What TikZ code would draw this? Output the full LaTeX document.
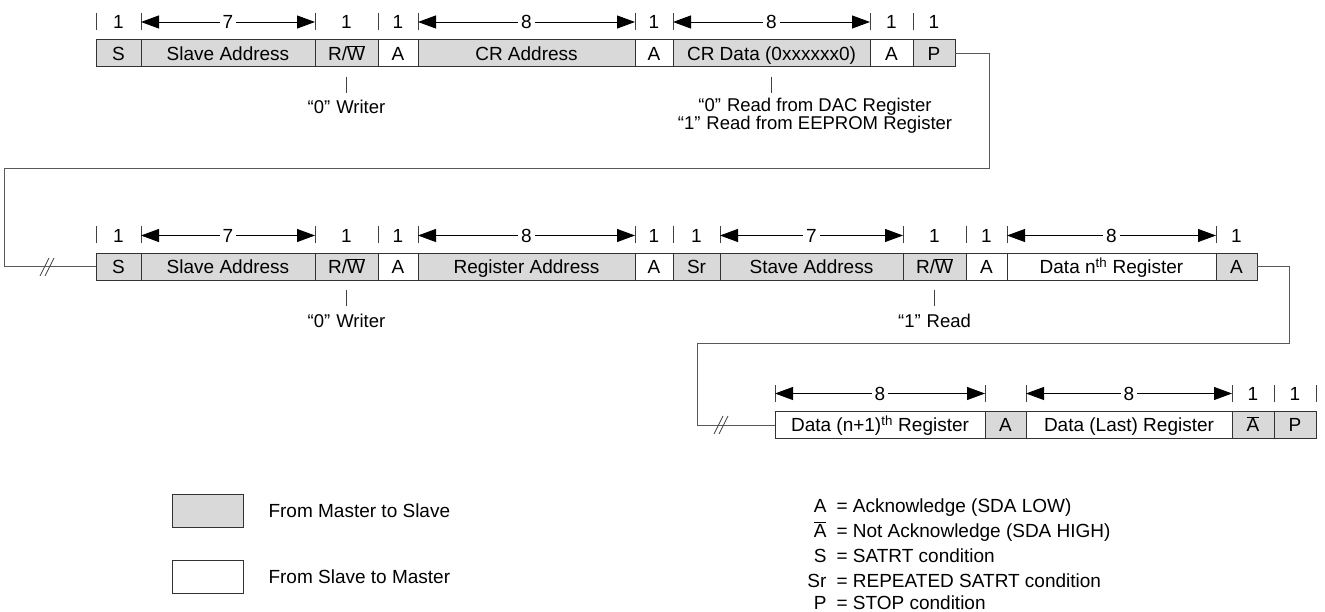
\documentclass[tikz,border=0pt]{standalone}
\usepackage{fontspec}
\setmainfont{Liberation Sans}
\usetikzlibrary{positioning,arrows.meta}
\newcommand{\ovl}[1]{$\overline{\mbox{#1}}$}

\begin{document}
\begin{tikzpicture}[x=1pt,y=-1pt,>={Triangle[length=18pt,width=13pt]},
  font=\fontsize{19}{18}\selectfont,
  field/.style={draw=black!80,line width=1pt,minimum height=27pt,inner sep=0pt,
    outer sep=0pt,text height=13.5pt,text depth=0pt},
  ms/.style={field,fill=black!15},
  sm/.style={field,fill=white},
  link/.style={draw=black!65,line width=1pt},
  tick/.style={draw=black!75,line width=0.8pt},
  dim/.style={<->,draw=black,line width=0.9pt},
  num/.style={fill=white,inner sep=3pt},
  note/.style={font=\fontsize{18.5}{18}\selectfont}]
  \useasboundingbox (0,0) rectangle (1325,612);

  \node[ms,minimum width=45pt,anchor=west] (s1) at (96,53.5) {S};
  \node[ms,minimum width=174pt,right=0pt of s1] (sa1) {Slave Address};
  \node[ms,minimum width=63pt,right=0pt of sa1] (rw1) {R/\ovl{W}};
  \node[sm,minimum width=40pt,right=0pt of rw1] (ack1) {A};
  \node[ms,minimum width=217pt,right=0pt of ack1] (cra) {CR Address};
  \node[sm,minimum width=38pt,right=0pt of cra] (ack2) {A};
  \node[ms,minimum width=197pt,right=0pt of ack2] (crd) {CR Data (0xxxxxx0)};
  \node[sm,minimum width=43pt,right=0pt of crd] (ack3) {A};
  \node[ms,minimum width=42pt,right=0pt of ack3] (p1) {P};

  \node[ms,minimum width=45pt,anchor=west] (s2) at (96,267) {S};
  \node[ms,minimum width=174pt,right=0pt of s2] (sa2) {Slave Address};
  \node[ms,minimum width=63pt,right=0pt of sa2] (rw2) {R/\ovl{W}};
  \node[sm,minimum width=40pt,right=0pt of rw2] (ack4) {A};
  \node[ms,minimum width=217pt,right=0pt of ack4] (rga) {Register Address};
  \node[sm,minimum width=38pt,right=0pt of rga] (ack5) {A};
  \node[ms,minimum width=47pt,right=0pt of ack5] (sr) {Sr};
  \node[ms,minimum width=183pt,right=0pt of sr] (sta) {Stave Address};
  \node[ms,minimum width=63pt,right=0pt of sta] (rw3) {R/\ovl{W}};
  \node[sm,minimum width=41pt,right=0pt of rw3] (ack6) {A};
  \node[sm,minimum width=209pt,right=0pt of ack6] (dn) {Data n\textsuperscript{th} Register};
  \node[ms,minimum width=41pt,right=0pt of dn] (ack7) {A};

  \node[sm,minimum width=210pt,anchor=west] (dn1) at (775,425) {Data (n+1)\textsuperscript{th} Register};
  \node[ms,minimum width=41pt,right=0pt of dn1] (ack8) {A};
  \node[sm,minimum width=206pt,right=0pt of ack8] (dl) {Data (Last) Register};
  \node[ms,minimum width=42pt,right=0pt of dl] (nak) {\ovl{A}};
  \node[ms,minimum width=42pt,right=0pt of nak] (p2) {P};

  \foreach \b in {s1,rw1,ack1,ack2,ack3,p1,s2,rw2,ack4,ack5,sr,rw3,ack6,ack7,nak,p2}
    \node (n\b) at ([yshift=18pt]\b.north) {1};
  \foreach \b in {s1,sa1,rw1,ack1,cra,ack2,crd,ack3,p1,
      s2,sa2,rw2,ack4,rga,ack5,sr,sta,rw3,ack6,dn,ack7,dn1,ack8,dl,nak,p2}
    \draw[tick] ([yshift=10pt]\b.north west) -- ([yshift=27pt]\b.north west);
  \draw[tick] ([yshift=10pt]p2.north east) -- ([yshift=27pt]p2.north east);
  \foreach \b/\n in {sa1/7,cra/8,crd/8,sa2/7,rga/8,sta/7,dn/8,dn1/8,dl/8}
    \draw[dim] ([yshift=18pt]\b.north west) -- ([yshift=18pt]\b.north east)
      node[num,midway] (m\b) {\n};

  \draw[tick] ([yshift=-10pt]rw1.south) -- ([yshift=-26pt]rw1.south);
  \node[note] (wr1) at ([yshift=-40pt]rw1.south) {“0”\hspace{6pt}Writer};
  \draw[tick] ([yshift=-10pt]crd.south) -- ([yshift=-26pt]crd.south);
  \node[note] (dac) at (815,107) {“0”\hspace{6pt}Read from DAC Register};
  \node[note] (eep) at (815,125) {“1”\hspace{6pt}Read from EEPROM Register};
  \draw[tick] ([yshift=-10pt]rw2.south) -- ([yshift=-26pt]rw2.south);
  \node[note] (wr2) at ([yshift=-40pt]rw2.south) {“0”\hspace{6pt}Writer};
  \draw[tick] ([yshift=-10pt]rw3.south) -- ([yshift=-26pt]rw3.south);
  \node[note] (rd) at ([yshift=-40pt]rw3.south) {“1”\hspace{6pt}Read};

  \coordinate (brk1) at (48,267);
  \coordinate (brk2) at (722,425);
  \draw[link] (p1.east) -- ++(34,0) |- (4,169) |- (s2.west);
  \draw[link] (ack7.east) -- ++(32,0) |- (697,343) |- (dn1.west);
  \foreach \c in {brk1,brk2}
    \draw[tick] ([shift={(-8,9)}]\c) -- ++(9,-18) ([shift={(-3,9)}]\c) -- ++(9,-18);

  \node[ms,minimum width=71pt,minimum height=33pt] (lms) at (207.5,510.5) {};
  \node[anchor=west] (tms) at (265,511) {From Master to Slave};
  \node[sm,minimum width=71pt,minimum height=33pt] (lsm) at (207.5,576.5) {};
  \node[anchor=west] (tsm) at (265,577) {From Slave to Master};

  \node[anchor=base east] (ka) at (830,512) {A};
  \node[anchor=base west] (va) at (833,512) {= Acknowledge (SDA LOW)};
  \node[anchor=base east] (kn) at (830,537) {\ovl{A}};
  \node[anchor=base west] (vn) at (833,537) {= Not Acknowledge (SDA HIGH)};
  \node[anchor=base east] (ks) at (830,562) {S};
  \node[anchor=base west] (vs) at (833,562) {= SATRT condition};
  \node[anchor=base east] (kr) at (830,587) {Sr};
  \node[anchor=base west] (vr) at (833,587) {= REPEATED SATRT condition};
  \node[anchor=base east] (kp) at (830,609) {P};
  \node[anchor=base west] (vp) at (833,609) {= STOP condition};
\end{tikzpicture}
\end{document}
